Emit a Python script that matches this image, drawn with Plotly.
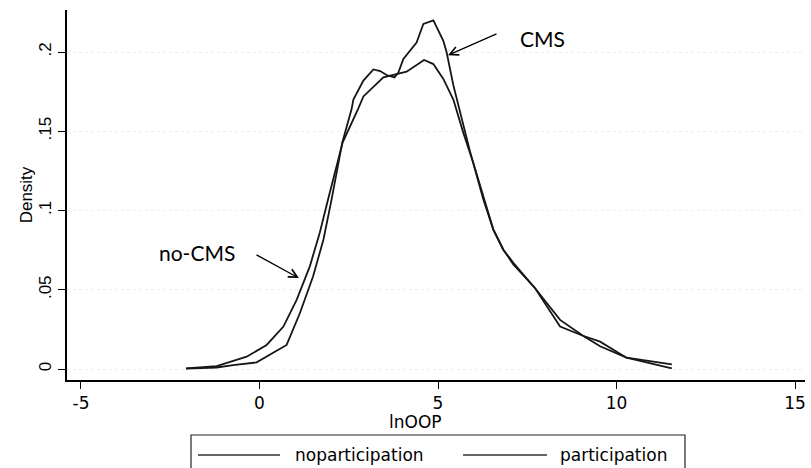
import plotly.graph_objects as go

# ---- data ----
x_nocms = [-2.06, -1.2, -0.36, 0.20, 0.67, 1.04, 1.41, 1.69, 1.92, 2.33, 2.76, 2.91, 3.47, 3.84,
           4.12, 4.61, 4.87, 5.15, 5.43, 5.71, 5.99, 6.27, 6.55, 6.83, 7.11, 7.72, 8.42, 9.06,
           9.54, 10.28, 11.55]
d_nocms = [0.0004, 0.0019, 0.0078, 0.0152, 0.0268, 0.0437, 0.0648, 0.0861, 0.107, 0.143, 0.164,
           0.172, 0.184, 0.186, 0.1876, 0.195, 0.1924, 0.183, 0.170, 0.149, 0.130, 0.109, 0.088,
           0.0753, 0.067, 0.051, 0.031, 0.021, 0.0144, 0.0072, 0.003]

x_cms = [-2.06, -1.2, -0.74, -0.08, 0.76, 1.13, 1.50, 1.79, 2.02, 2.32, 2.58, 2.63, 2.91, 3.19,
         3.38, 3.56, 3.78, 3.89, 4.03, 4.40, 4.59, 4.87, 5.15, 5.24, 5.43, 5.66, 5.90, 6.27,
         6.55, 6.83, 7.11, 7.72, 8.42, 9.06, 9.54, 10.28, 11.55]
d_cms = [0.0003, 0.0010, 0.0025, 0.0042, 0.0152, 0.0352, 0.0584, 0.0816, 0.107, 0.143, 0.164,
         0.170, 0.182, 0.189, 0.188, 0.1855, 0.184, 0.187, 0.1956, 0.206, 0.2177, 0.220, 0.207,
         0.200, 0.179, 0.158, 0.137, 0.107, 0.088, 0.0753, 0.066, 0.051, 0.0268, 0.021, 0.0173,
         0.0072, 0.0004]

x_ticks = [-5, 0, 5, 10, 15]
x_ticktext = ["-5", "0", "5", "10", "15"]
y_ticks = [0, 0.05, 0.1, 0.15, 0.2]
y_ticktext = ["0", ".05", ".1", ".15", ".2"]
series_names = ["noparticipation", "participation"]

LINE = "#161616"
HFONT = "DejaVu Sans"
VFONT = "Liberation Sans"

fig = go.Figure()
fig.add_trace(go.Scatter(x=x_nocms, y=d_nocms, mode="lines", name=series_names[0],
                         line=dict(color=LINE, width=1.8), showlegend=False))
fig.add_trace(go.Scatter(x=x_cms, y=d_cms, mode="lines", name=series_names[1],
                         line=dict(color=LINE, width=1.8), showlegend=False))

# plot area in pixels: x 67..805, y 10..380
def px(xp):
    return (xp - 67) / 738.0

def py(yp):
    return (380 - yp) / 370.0

shapes = []
# legend box
shapes.append(dict(type="rect", xref="paper", yref="paper", x0=px(191), x1=px(685),
                   y0=py(474), y1=py(435), line=dict(color="#222", width=1.2),
                   fillcolor="white", layer="above"))
# legend line samples
shapes.append(dict(type="line", xref="paper", yref="paper", x0=px(198), x1=px(280),
                   y0=py(455), y1=py(455), line=dict(color="#333", width=1.6)))
shapes.append(dict(type="line", xref="paper", yref="paper", x0=px(463), x1=px(547),
                   y0=py(455), y1=py(455), line=dict(color="#333", width=1.6)))

annotations = [
    dict(xref="paper", yref="paper", x=px(293), y=py(455), text=series_names[0],
         showarrow=False, xanchor="left", yanchor="middle",
         font=dict(family=HFONT, size=17, color="black")),
    dict(xref="paper", yref="paper", x=px(558), y=py(455), text=series_names[1],
         showarrow=False, xanchor="left", yanchor="middle",
         font=dict(family=HFONT, size=17, color="black")),
    # x axis title
    dict(xref="paper", yref="paper", x=px(415), y=py(422), text="lnOOP",
         showarrow=False, xanchor="center", yanchor="middle",
         font=dict(family=HFONT, size=17, color="black")),
    # CMS label + arrow
    dict(xref="paper", yref="paper", x=px(542), y=py(39), text="CMS",
         showarrow=False, xanchor="center", yanchor="middle",
         font=dict(family="Lato", size=21, color="black")),
    dict(x=5.28, y=0.198, xref="x", yref="y", text="", showarrow=True,
         ax=50, ay=-22, arrowhead=5, arrowsize=1.3, arrowwidth=1.3, arrowcolor="black"),
    # no-CMS label + arrow
    dict(xref="paper", yref="paper", x=px(197), y=py(253), text="no-CMS",
         showarrow=False, xanchor="center", yanchor="middle",
         font=dict(family="Lato", size=21, color="black")),
    dict(x=1.106, y=0.0574, xref="x", yref="y", text="", showarrow=True,
         ax=-44, ay=-24, arrowhead=5, arrowsize=1.3, arrowwidth=1.3, arrowcolor="black"),
]

fig.update_layout(
    width=811, height=468,
    margin=dict(l=67, r=6, t=10, b=88),
    paper_bgcolor="white", plot_bgcolor="white",
    showlegend=False,
    shapes=shapes, annotations=annotations,
    xaxis=dict(range=[-5.392, 15.28], tickmode="array", tickvals=x_ticks,
               ticktext=x_ticktext,
               ticks="outside", ticklen=7, tickwidth=1.3, tickcolor="black",
               showline=True, linecolor="black", linewidth=1.5,
               showgrid=False, zeroline=False,
               tickfont=dict(family=HFONT, size=17, color="black")),
    yaxis=dict(range=[-0.0069, 0.2265], tickmode="array", tickvals=y_ticks,
               ticktext=y_ticktext, tickangle=-90,
               ticks="outside", ticklen=7, tickwidth=1.3, tickcolor="black",
               showline=True, linecolor="black", linewidth=1.5,
               showgrid=True, gridcolor="#efefef", griddash="dot", gridwidth=1,
               zeroline=False,
               tickfont=dict(family=VFONT, size=17, color="black"),
               title=dict(text="Density", font=dict(family=VFONT, size=17, color="black"),
                          standoff=0)),
)

fig.write_html("out.html", config={"displayModeBar": False})
